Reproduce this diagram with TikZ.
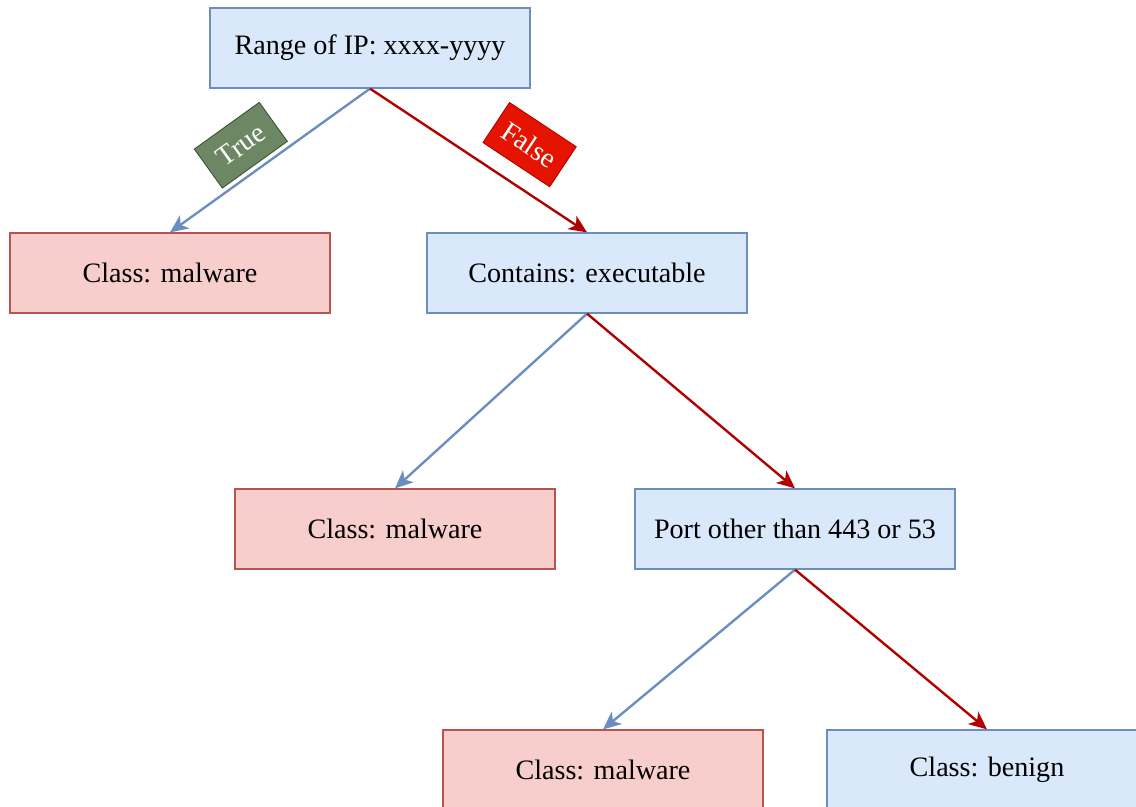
\documentclass[tikz,border=0pt]{standalone}
\usepackage{fontspec}
\setmainfont{Liberation Serif}
\usetikzlibrary{arrows.meta}

\definecolor{testfill}{HTML}{DAE8FC}
\definecolor{testline}{HTML}{6C8EBF}
\definecolor{leaffill}{HTML}{F8CECC}
\definecolor{leafline}{HTML}{B85450}
\definecolor{yesfill}{HTML}{6D8764}
\definecolor{yesline}{HTML}{3A5431}
\definecolor{nofill}{HTML}{E51400}
\definecolor{noline}{HTML}{B20000}

\begin{document}
		\begin{tikzpicture}[
			box/.style={draw, line width=0.7pt, minimum width=6.4cm, minimum height=1.6cm, inner sep=0pt, font=\fontsize{16}{19}\selectfont},
			test/.style={box, fill=testfill, draw=testline},
			malware/.style={box, fill=leaffill, draw=leafline},
			yesedge/.style={draw=testline, line width=1.35pt, -{Stealth[length=0.36cm, width=0.32cm, inset=0.1cm]}},
			noedge/.style={draw=noline, line width=1.35pt, -{Stealth[length=0.36cm, width=0.32cm, inset=0.1cm]}},
			tag/.style={minimum width=1.6cm, minimum height=0.96cm, inner sep=0pt, text=white, line width=0.5pt, font=\fontsize{16}{19}\selectfont}
			]
			\clip (0,0) rectangle (22.72,-16.14);
			% decision nodes and leaves
			\node [test] (ip) at (7.4,-0.96) {Range of IP: xxxx-yyyy};
			\node [malware] (leafa) at (3.4,-5.46) {Class: malware};
			\node [test] (exe) at (11.74,-5.46) {Contains: executable};
			\node [malware] (leafb) at (7.9,-10.58) {Class: malware};
			\node [test] (port) at (15.9,-10.58) {Port other than 443 or 53};
			\node [malware] (leafc) at (12.06,-15.4) {Class: malware};
			\node [test] (benign) at (19.74,-15.4) {Class: benign};
			% branches
			\draw [yesedge] (ip.south) -- node [tag, fill=yesfill, draw=yesline, sloped, above=0.1cm, pos=0.56] (yes) {True} (leafa.north);
			\draw [noedge] (ip.south) -- node [tag, fill=nofill, draw=noline, sloped, above=0.34cm, pos=0.63] (no) {False} (exe.north);
			\draw [yesedge] (exe.south) -- (leafb.north);
			\draw [noedge] (exe.south) -- (port.north);
			\draw [yesedge] (port.south) -- (leafc.north);
			\draw [noedge] (port.south) -- (benign.north);
		\end{tikzpicture}
\end{document}
